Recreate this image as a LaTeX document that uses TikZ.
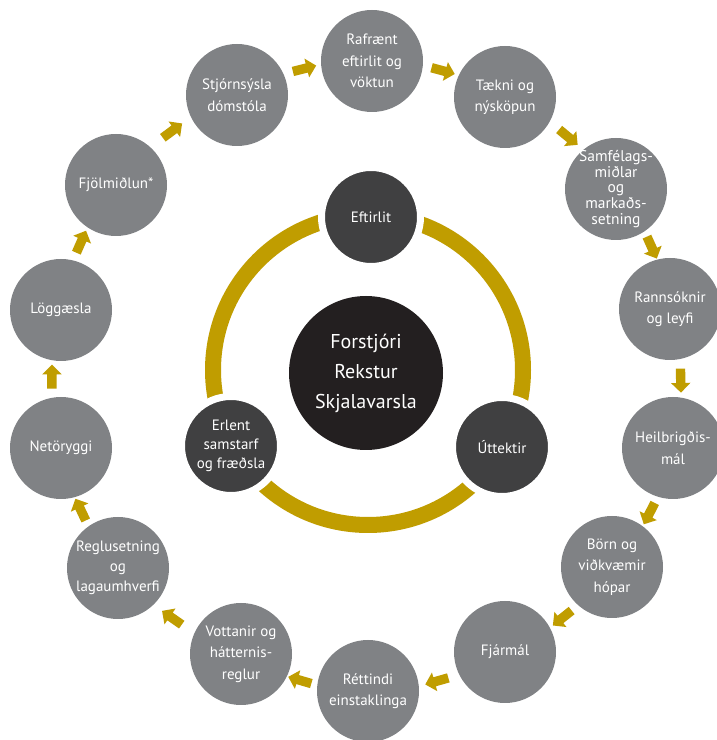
\documentclass[tikz,border=0pt]{standalone}
\usepackage{fontspec}
\setmainfont{PT Sans}
\usetikzlibrary{shapes.arrows}
\definecolor{gold}{HTML}{C09D00}
\definecolor{outergray}{HTML}{808285}
\definecolor{innerdark}{HTML}{404041}
\definecolor{coredark}{HTML}{231F20}
\begin{document}
\begin{tikzpicture}[x=1pt,y=1pt,
  outer/.style={circle, fill=outergray, minimum size=102pt, inner sep=0pt},
  txt/.style={text=white, align=center, inner sep=0pt, font=\fontsize{15}{21.5}\selectfont},
  tighttxt/.style={text=white, align=center, inner sep=0pt, font=\fontsize{15.5}{15.7}\selectfont},
  innerc/.style={circle, fill=innerdark, draw=white, line width=7pt, minimum size=99pt, inner sep=0pt},
  core/.style={circle, fill=coredark, minimum size=154pt, inner sep=0pt},
  flow/.style={single arrow, fill=gold, draw=none, inner sep=0pt, inner ysep=4.5pt,
    minimum height=24pt, single arrow head extend=5pt, sloped, allow upside down}
]
\useasboundingbox (0,0) rectangle (716,740);
\fill[white] (0,0) rectangle (716,740);

% gold ring
\coordinate (rc) at (368,370);
\draw[gold, line width=16pt] (rc) circle[radius=155pt];

% inner circles
\node[innerc, label={[txt]center:Eftirlit}] (eft) at (371,523) {};
\node[innerc, label={[txt]center:Úttektir}] (utt) at (502,293) {};
\node[innerc, label={[txt, font=\fontsize{15}{19}\selectfont]center:Erlent\\samstarf\\og fræðsla}] (erl) at (231,294) {};
\node[core, label={[txt, font=\fontsize{20}{30}\selectfont]center:Forstjóri\\Rekstur\\Skjalavarsla}] (ctr) at (366,367) {};

% outer circles
\node[outer, label={[txt]center:Rafrænt\\eftirlit og\\vöktun}] (n1) at (372,679) {};
\node[outer, label={[txt]center:Tækni og\\nýsköpun}] (n2) at (505,643) {};
\node[outer, label={[tighttxt]center:Samfélags-\\miðlar\\og\\markaðs-\\setning}] (n3) at (616,551) {};
\node[outer, label={[txt]center:Rannsóknir\\og leyfi}] (n4) at (670,431) {};
\node[outer, label={[txt]center:Heilbrigðis-\\mál}] (n5) at (673,292) {};
\node[outer, label={[txt]center:Börn og\\viðkvæmir\\hópar}] (n6) at (612,173) {};
\node[outer, label={[txt]center:Fjármál}] (n7) at (505,88) {};
\node[outer, label={[txt]center:Réttindi\\einstaklinga}] (n8) at (368,49) {};
\node[outer, label={[txt]center:Vottanir og\\hátternis-\\reglur}] (n9) at (241,86) {};
\node[outer, label={[txt, font=\fontsize{15}{20}\selectfont]center:Reglusetning\\og\\lagaumhverfi}] (n10) at (118,172) {};
\node[outer, label={[txt]center:Netöryggi}] (n11) at (61,292) {};
\node[outer, label={[txt]center:Löggæsla}] (n12) at (61,430) {};
\node[outer, label={[txt]center:Fjölmiðlun*}] (n13) at (116,555) {};
\node[outer, label={[txt]center:Stjórnsýsla\\dómstóla}] (n14) at (237,645) {};

% block arrows (clockwise)
\foreach \a/\b in {n14/n1, n1/n2, n2/n3, n3/n4, n4/n5, n5/n6, n6/n7, n7/n8, n8/n9, n9/n10, n10/n11, n11/n12, n12/n13, n13/n14}{
  \path (\a.center) to[bend left=13] node[flow] {} (\b.center);
}
\end{tikzpicture}
\end{document}
